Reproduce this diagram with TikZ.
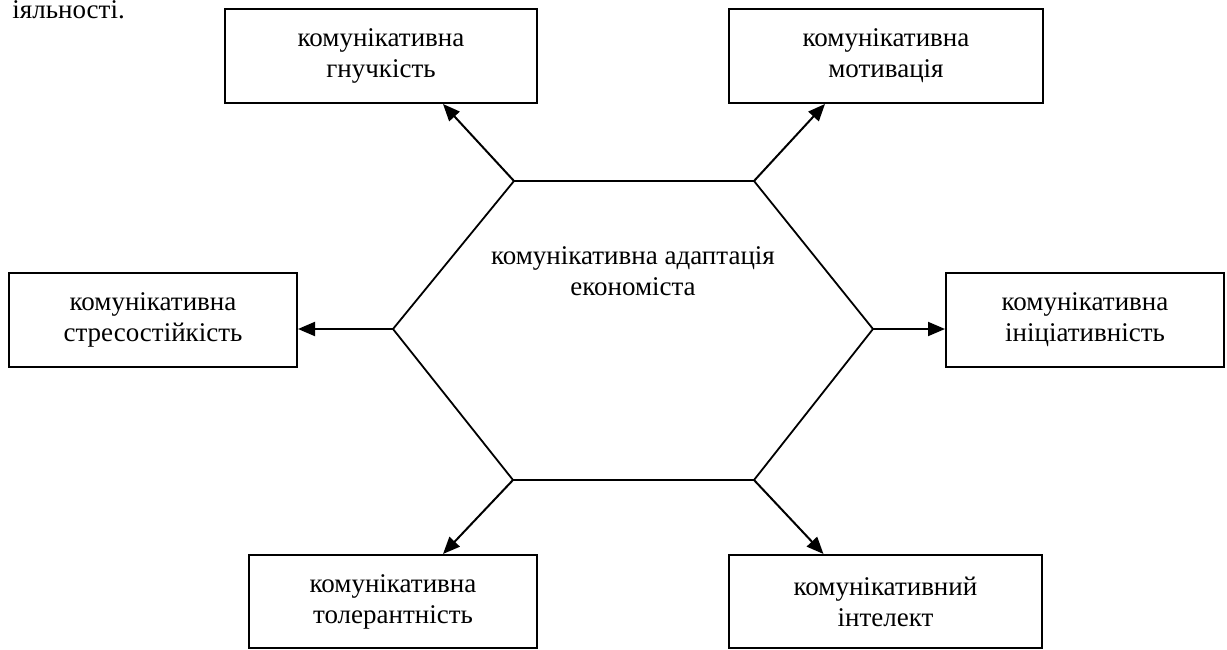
\documentclass[tikz,border=0pt]{standalone}
\usepackage{fontspec}
\setmainfont{Liberation Serif}
\usetikzlibrary{arrows.meta,calc}
\begin{document}
\begin{tikzpicture}[x=1pt,y=-1pt,
  txt/.style={font=\fontsize{27}{31}\selectfont, align=center, inner sep=0pt},
  boxnode/.style={txt, draw, line width=2pt, rectangle},
  hexline/.style={line width=1.8pt, line join=miter},
  arr/.style={line width=2pt, -{Triangle[length=17pt,width=14pt]}}]
\useasboundingbox (0,0) rectangle (1227,650);
% hexagon vertices
\coordinate (hTL) at (514,181);
\coordinate (hTR) at (754,181);
\coordinate (hR) at (873,329);
\coordinate (hBR) at (754,480);
\coordinate (hBL) at (513,480);
\coordinate (hL) at (393,329);
\draw[hexline] (hTL) -- (hTR) -- (hR) -- (hBR) -- (hBL) -- (hL) -- cycle;
\node[txt] (center) at (633,271) {комунікативна адаптація\\економіста};
% boxes
\node[boxnode, minimum width=312pt, minimum height=94pt] (b1) at (381,56) {комунікативна\\гнучкість};
\node[boxnode, minimum width=314pt, minimum height=94pt] (b2) at (886,56) {комунікативна\\мотивація};
\node[boxnode, minimum width=288pt, minimum height=94pt] (b3) at (153,320) {комунікативна\\стресостійкість};
\node[boxnode, minimum width=278pt, minimum height=94pt] (b4) at (1085,320) {комунікативна\\ініціативність};
\node[boxnode, minimum width=288pt, minimum height=93pt] (b5) at (393,601.5) {комунікативна\\толерантність};
\node[boxnode, minimum width=313pt, minimum height=93pt] (b6) at (885.5,601.5) {комунікативний\\інтелект};
% arrows
\draw[arr] (hTL) -- ([xshift=62pt]b1.south);
\draw[arr] (hTR) -- ([xshift=-61pt]b2.south);
\draw[arr] (hL) -- (hL -| b3.east);
\draw[arr] (hR) -- (hR -| b4.west);
\draw[arr] (hBL) -- ([xshift=50pt]b5.north);
\draw[arr] (hBR) -- ([xshift=-62pt]b6.north);
% cropped caption fragment
\node[txt, anchor=base east] (frag) at (125,19) {іяльності.};
\end{tikzpicture}
\end{document}
